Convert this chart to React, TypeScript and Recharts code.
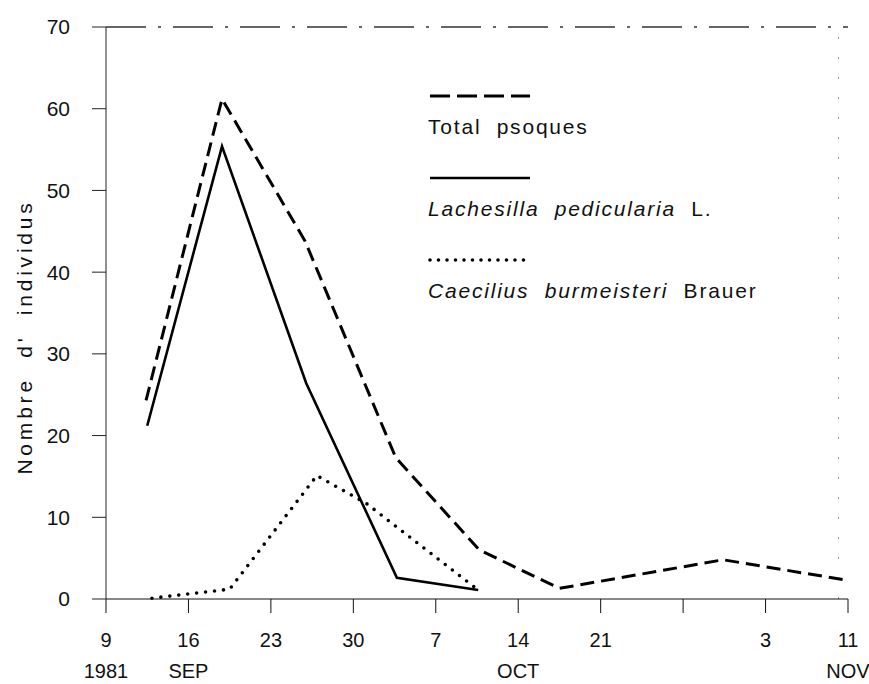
import { LineChart, Line, XAxis, YAxis, ReferenceLine } from 'recharts'

// days counted from 9 Sep 1981
const totalDays = [3.4, 9.85, 16.9, 24.6, 31.7, 38.5, 52.4, 62.9]
const totalValues = [24.3, 61.2, 43.8, 17.3, 6.0, 1.3, 4.8, 2.3]

const lachesillaDays = [3.5, 9.85, 17.0, 24.7, 31.6]
const lachesillaValues = [21.2, 55.4, 26.4, 2.6, 1.1]

const caeciliusDays = [3.9, 10.5, 17.9, 22.1, 31.6]
const caeciliusValues = [0.1, 1.2, 15.1, 11.7, 1.1]

const dayTicks = [0, 7, 14, 21, 28, 35, 42, 49, 56, 63]
const dayLabels = ['9', '16', '23', '30', '7', '14', '21', '', '3', '11']
const monthLabels = ['1981', 'SEP', '', '', '', 'OCT', '', '', '', 'NOV']
const valueTicks = [0, 10, 20, 30, 40, 50, 60, 70]

const FONT = '"Liberation Sans", Arial, sans-serif'

const toPoints = (days: number[], values: number[]) =>
  days.map((d, i) => ({ d, v: values[i] }))

const series = [
  { key: 'total', name: 'Total psoques', italic: '', upright: 'Total  psoques', data: toPoints(totalDays, totalValues), dash: '14 7', legendDash: '20 7', width: 3, cap: 'butt' as const },
  { key: 'lach', name: 'Lachesilla pedicularia L.', italic: 'Lachesilla  pedicularia', upright: '  L.', data: toPoints(lachesillaDays, lachesillaValues), dash: undefined, legendDash: undefined, width: 2.6, cap: 'butt' as const },
  { key: 'caec', name: 'Caecilius burmeisteri Brauer', italic: 'Caecilius  burmeisteri', upright: '  Brauer', data: toPoints(caeciliusDays, caeciliusValues), dash: '0 9', legendDash: '0 8.5', width: 3.6, cap: 'round' as const },
]

const XTick = ({ x, y, payload }: any) => {
  const i = dayTicks.indexOf(payload.value)
  return (
    <g transform={`translate(${x},${y})`}>
      <text x={0} y={32} textAnchor="middle" fontSize={20} fontFamily={FONT} fill="#111">
        {dayLabels[i]}
      </text>
      <text x={0} y={63} textAnchor="middle" fontSize={20} fontFamily={FONT} fill="#111">
        {monthLabels[i]}
      </text>
    </g>
  )
}

const YLabel = () => (
  <text
    x={32}
    y={337}
    transform="rotate(-90 32 337)"
    textAnchor="middle"
    fontSize={21}
    fontFamily={FONT}
    fill="#111"
    style={{ letterSpacing: 3.8, whiteSpace: 'pre' }}
  >
    {"Nombre  d'  individus"}
  </text>
)

const LegendBox = () => (
  <div style={{ position: 'absolute', left: 428, top: 86, fontFamily: FONT, fontSize: 21, color: '#111' }}>
    {series.map((s) => (
      <div key={s.key} style={{ height: 82 }}>
        <svg width={110} height={20} style={{ display: 'block' }}>
          <line x1={2} y1={10} x2={102} y2={10} stroke="#000" strokeWidth={s.width} strokeDasharray={s.legendDash} strokeLinecap={s.cap} />
        </svg>
        <div style={{ whiteSpace: 'pre', marginTop: 9, letterSpacing: 1.8 }}>
          <i>{s.italic}</i>
          {s.upright}
        </div>
      </div>
    ))}
  </div>
)

export default function App() {
  return (
    <div style={{ position: 'absolute', left: 0, top: 0, width: 869, height: 684, background: '#fff' }}>
      <LineChart width={869} height={684} margin={{ top: 27, right: 21, bottom: 25, left: 46 }}>
        <XAxis
          dataKey="d"
          type="number"
          domain={[0, 63]}
          ticks={dayTicks}
          interval={0}
          tick={<XTick />}
          tickSize={14}
          stroke="#111"
          allowDataOverflow
          height={60}
        />
        <YAxis
          type="number"
          domain={[0, 70]}
          ticks={valueTicks}
          interval={0}
          tickSize={14}
          tickMargin={22}
          width={60}
          stroke="#222"
          tick={{ fontSize: 21, fontFamily: FONT, fill: '#111' }}
          label={<YLabel />}
        />
        <ReferenceLine y={70} stroke="#333" strokeWidth={1.3} strokeDasharray="40 12 3 12" />
        <ReferenceLine x={62.2} stroke="#999" strokeWidth={1} strokeDasharray="2 18" />
        {series.map((s) => (
          <Line
            key={s.key}
            data={s.data}
            dataKey="v"
            name={s.name}
            type="linear"
            stroke="#000"
            strokeWidth={s.width}
            strokeDasharray={s.dash}
            strokeLinecap={s.cap}
            dot={false}
            activeDot={false}
            isAnimationActive={false}
          />
        ))}
      </LineChart>
      <LegendBox />
    </div>
  )
}
